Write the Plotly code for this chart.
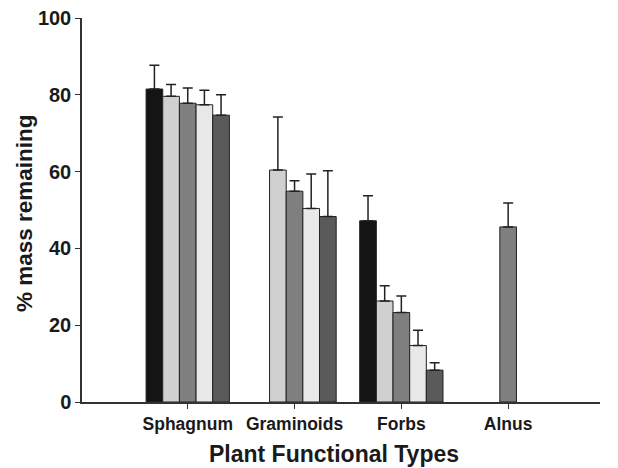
import plotly.graph_objects as go

categories = ["Sphagnum", "Graminoids", "Forbs", "Alnus"]
series_names = ["S1", "S2", "S3", "S4", "S5"]
values = [
    [81.5, None, 47.2, None],
    [79.6, 60.4, 26.3, None],
    [77.8, 54.9, 23.3, 45.6],
    [77.4, 50.4, 14.7, None],
    [74.7, 48.3, 8.3, None],
]
errors = [
    [6.2, 0, 6.5, 0],
    [3.1, 13.8, 4.0, 0],
    [4.0, 2.7, 4.3, 6.2],
    [3.8, 9.0, 4.0, 0],
    [5.3, 11.9, 1.9, 0],
]
colors = ["#141414", "#d0d0d0", "#7f7f7f", "#e8e8e8", "#5a5a5a"]
x_title = "Plant Functional Types"
y_title = "% mass remaining"

fig = go.Figure()
xpos = list(range(len(categories)))
for name, vals, errs, col in zip(series_names, values, errors, colors):
    fig.add_trace(go.Bar(
        x=xpos, y=vals, name=name,
        marker=dict(color=col, line=dict(color="#222222", width=1)),
        error_y=dict(type="data", array=errs, arrayminus=[0]*len(errs),
                     symmetric=False, color="#222222", thickness=1.5, width=5),
    ))

fig.update_layout(
    barmode="group", bargap=0.22, bargroupgap=0,
    width=618, height=468,
    margin=dict(l=82, r=18, t=18, b=66, autoexpand=False),
    paper_bgcolor="white", plot_bgcolor="white",
    showlegend=False,
    font=dict(family="Liberation Sans, Arial, sans-serif", color="#1a1a1a"),
    annotations=[
        dict(text="<b>%s</b>" % x_title, xref="paper", yref="paper",
             x=0.487, y=0, xanchor="center", yanchor="middle", yshift=-52,
             showarrow=False, font=dict(size=23)),
        dict(text="<b>%s</b>" % y_title, xref="paper", yref="paper",
             x=0, y=0.492, xanchor="center", yanchor="middle", xshift=-58,
             textangle=-90, showarrow=False, font=dict(size=22.5)),
    ],
)
fig.update_xaxes(
    range=[-0.99, 3.86], tickmode="array", tickvals=xpos,
    ticktext=["<b>%s</b>" % c for c in categories],
    tickfont=dict(size=17.5), ticks="outside", ticklen=5, tickcolor="#333",
    showline=True, linecolor="#333", linewidth=1.5, showgrid=False, zeroline=False,
    automargin=False,
)
fig.update_yaxes(
    range=[0, 100], tickvals=[0, 20, 40, 60, 80, 100],
    ticktext=["<b>%d</b>" % v for v in [0, 20, 40, 60, 80, 100]],
    tickfont=dict(size=20), ticks="outside", ticklen=5, tickcolor="#333",
    showline=True, linecolor="#333", linewidth=1.5, showgrid=False, zeroline=False,
    automargin=False,
)
fig.write_html("out.html", config={"displayModeBar": False})

# remove default page margin so the figure sits at the window origin
with open("out.html", encoding="utf-8") as f:
    html = f.read()
html = html.replace("<head>", "<head><style>html,body{margin:0;padding:0;}</style>", 1)
with open("out.html", "w", encoding="utf-8") as f:
    f.write(html)
